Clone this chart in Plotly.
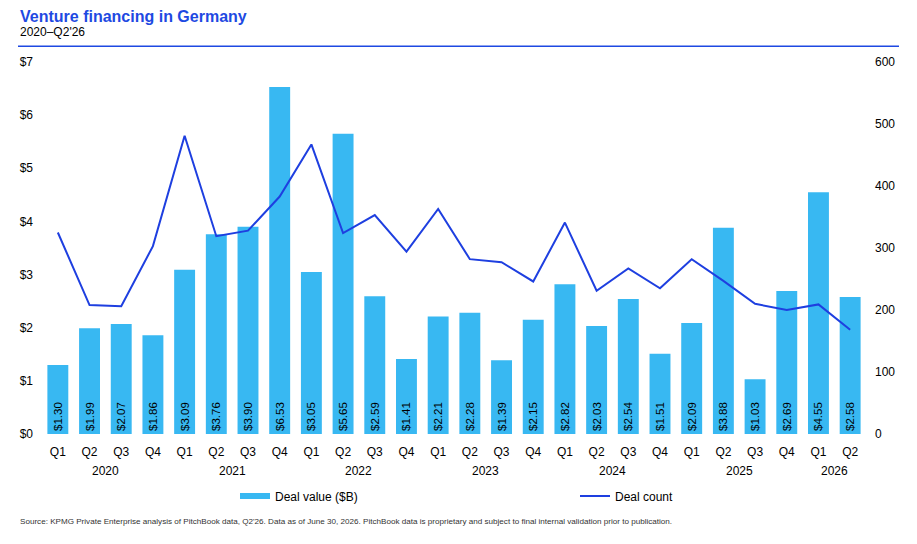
import plotly.graph_objects as go

years = ["2020"]*4 + ["2021"]*4 + ["2022"]*4 + ["2023"]*4 + ["2024"]*4 + ["2025"]*4 + ["2026"]*2
quarters = ["Q1", "Q2", "Q3", "Q4"]*6 + ["Q1", "Q2"]
deal_value = [1.30, 1.99, 2.07, 1.86, 3.09, 3.76, 3.90, 6.53, 3.05, 5.65, 2.59, 1.41,
              2.21, 2.28, 1.39, 2.15, 2.82, 2.03, 2.54, 1.51, 2.09, 3.88, 1.03, 2.69, 4.55, 2.58]
deal_count = [325, 208, 206, 303, 481, 319, 328, 383, 467, 324, 353, 294,
              363, 282, 277, 246, 341, 231, 267, 235, 282, 247, 210, 200, 209, 168]

FONT = "Arial, Liberation Sans, sans-serif"
BAR = "#38B8F2"
LINE = "#1E3FE0"
TITLE = "#1E49E2"

cats = [f"{y} {q}" for y, q in zip(years, quarters)]

# plot area in figure pixels
L, T, R, B, W, H = 34, 54, 858, 426, 917, 544
PW, PH = R - L, B - T
def px(x):
    return (x - L) / PW
def py(y):
    return (B - y) / PH

fig = go.Figure()
fig.add_trace(go.Bar(
    x=cats, y=deal_value, name="Deal value ($B)", showlegend=False,
    marker=dict(color=BAR, line=dict(width=0)),
    texttemplate="$%{y:.2f}", textposition="inside", insidetextanchor="start",
    textangle=-90, constraintext="none",
    textfont=dict(color="black", size=11.5, family=FONT),
    yaxis="y",
))
# legend swatch for the bars (no marks drawn)
fig.add_trace(go.Scatter(
    x=[None], y=[None], name="Deal value ($B)", mode="lines",
    line=dict(color=BAR, width=6), legend="legend", hoverinfo="skip",
))
fig.add_trace(go.Scatter(
    x=cats, y=deal_count, name="Deal count", mode="lines",
    line=dict(color=LINE, width=2), yaxis="y2", legend="legend2",
))

# year label positions from the categories
year_ann = []
uniq = []
for y in years:
    if y not in uniq:
        uniq.append(y)
for y in uniq:
    idx = [i for i, v in enumerate(years) if v == y]
    year_ann.append(dict(text=y, xref="x", yref="paper", x=(idx[0] + idx[-1]) / 2,
                         y=py(463), xanchor="center", yanchor="middle", showarrow=False,
                         font=dict(size=12, color="black")))

fig.update_layout(
    width=W, height=H,
    margin=dict(l=L, r=W - R, t=T, b=H - B),
    paper_bgcolor="white", plot_bgcolor="white",
    font=dict(family=FONT, size=12, color="black"),
    bargap=0.34,
    showlegend=True,
    legend=dict(orientation="h", x=px(227), y=py(488), xanchor="left", yanchor="middle",
                font=dict(size=12, color="black"), bgcolor="rgba(0,0,0,0)"),
    legend2=dict(orientation="h", x=px(567), y=py(488), xanchor="left", yanchor="middle",
                 font=dict(size=12, color="black"), bgcolor="rgba(0,0,0,0)"),
    xaxis=dict(type="category", tickvals=cats, ticktext=quarters, showgrid=False,
               showline=False, ticks="", tickfont=dict(size=12), ticklabelstandoff=9),
    yaxis=dict(range=[0, 7], dtick=1, tickprefix="$", showgrid=False,
               zeroline=False, showline=False, tickfont=dict(size=12),
               ticklabelstandoff=8),
    yaxis2=dict(range=[0, 600], dtick=100, overlaying="y", side="right",
                showgrid=False, zeroline=False, showline=False,
                tickfont=dict(size=12), ticklabelstandoff=8),
    annotations=[
        dict(text="<b>Venture financing in Germany</b>", xref="paper", yref="paper",
             x=px(10), y=py(8), xanchor="left", yanchor="middle", showarrow=False,
             font=dict(size=16, color=TITLE)),
        dict(text="2020–Q2'26", xref="paper", yref="paper", x=px(10),
             y=py(24.5), xanchor="left", yanchor="middle", showarrow=False,
             font=dict(size=12, color="black")),
        dict(text="Source: KPMG Private Enterprise analysis of PitchBook data, Q2'26. Data as of June 30, 2026. PitchBook data is proprietary and subject to final internal validation prior to publication.",
             xref="paper", yref="paper", x=px(10), y=py(513),
             xanchor="left", yanchor="middle", showarrow=False,
             font=dict(size=8.1, color="#333333")),
    ] + year_ann,
    shapes=[dict(type="line", xref="paper", yref="paper", x0=px(10), x1=px(891),
                 y0=py(38.3), y1=py(38.3), line=dict(color=TITLE, width=1.5))],
)

fig.write_html("out.html")
